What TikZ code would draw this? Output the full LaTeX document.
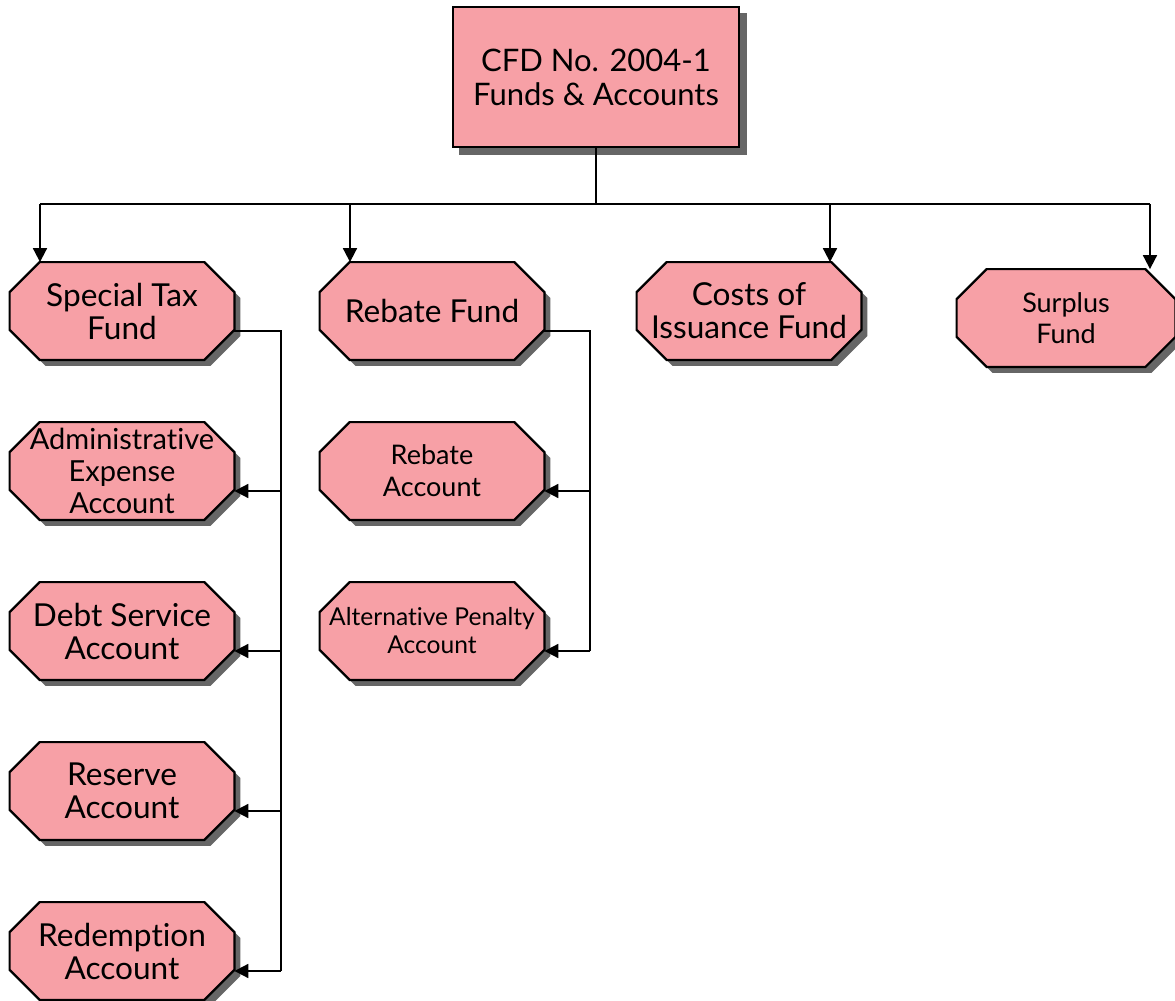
\documentclass[tikz,border=0pt]{standalone}
\usepackage{fontspec}
\setmainfont{Lato}[Ligatures=NoCommon]
\usepackage{tikz}
\usetikzlibrary{backgrounds, arrows.meta}
\definecolor{fundpink}{RGB}{247,160,166}

\tikzset{
  fund/.style={rectangle, minimum width=112pt, minimum height=48.5pt,
    inner sep=0pt, align=center, font=\fontsize{15.8}{16.5}\selectfont},
  headbox/.style={rectangle, draw=black, line width=1.1pt, fill=fundpink,
    minimum width=143pt, minimum height=70pt, align=center,
    font=\fontsize{15.5}{17}\selectfont},
  octline/.style={draw=black, line width=1.1pt, fill=fundpink},
  octshadow/.style={fill=black!60, transform canvas={xshift=3pt, yshift=-3pt}},
  arr/.style={-{Triangle[length=7pt,width=7pt]}},
  link/.style={line width=0.9pt}
}
% octagon round a node, chamfer 15pt
\newcommand\octpath[1]{%
  ([xshift=15pt]#1.north west) -- ([xshift=-15pt]#1.north east)
  -- ([yshift=-15pt]#1.north east) -- ([yshift=15pt]#1.south east)
  -- ([xshift=-15pt]#1.south east) -- ([xshift=15pt]#1.south west)
  -- ([yshift=15pt]#1.south west) -- ([yshift=-15pt]#1.north west) -- cycle}

\begin{document}
\begin{tikzpicture}[x=0.5pt, y=-0.5pt]
  \useasboundingbox (0,0) rectangle (1175,1001);

  \node[headbox] (cfd) at (596,77) {CFD No. 2004-1\\Funds \& Accounts};

  \node[fund] (stf) at (122,311) {Special Tax\\Fund};
  \node[fund] (rbf) at (432,311) {Rebate Fund};
  \node[fund] (coi) at (749,311) {Costs of\\Issuance Fund};
  \node[fund, minimum width=109pt, font=\fontsize{13.5}{15.5}\selectfont] (spf) at (1066,318) {Surplus\\Fund};

  \node[fund, font=\fontsize{14.5}{16}\selectfont] (adm) at (122,471) {Administrative\\Expense\\Account};
  \node[fund] (dsa) at (122,631) {Debt Service\\Account};
  \node[fund] (rsa) at (122,791) {Reserve\\Account};
  \node[fund] (rda) at (122,951) {Redemption\\Account};

  \node[fund, font=\fontsize{13.5}{16}\selectfont] (rba) at (432,471) {Rebate\\Account};
  \node[fund, font=\fontsize{12.3}{14}\selectfont] (apa) at (432,631) {Alternative Penalty\\Account};

  % octagons and shadows behind the text
  \begin{pgfonlayer}{background}
    \fill[black!60] ([shift={(3.5pt,-3.5pt)}]cfd.south west) rectangle ([shift={(3.5pt,-3.5pt)}]cfd.north east);
    \foreach \n in {stf,rbf,coi,spf,adm,dsa,rsa,rda,rba,apa}{
      \fill[octshadow] \octpath{\n};
      \path[octline] \octpath{\n};
    }
  \end{pgfonlayer}

  % top bus
  \coordinate (bus) at (596,204);
  \coordinate (b1) at (40,204);
  \coordinate (b2) at (350,204);
  \coordinate (b3) at (830,204);
  \coordinate (b4) at (1150,204);
  \draw[link] (cfd.south) -- (bus);
  \draw[link] (b1) -- (b4);
  \draw[link, arr] (b1) -- (b1 |- stf.north);
  \draw[link, arr] (b2) -- (b2 |- rbf.north);
  \draw[link, arr] (b3) -- (b3 |- coi.north);
  \draw[link, arr] (b4) -- (b4 |- spf.north);

  % special tax fund accounts
  \coordinate (ltrunk) at (281,0);
  \draw[link] ([yshift=-10pt]stf.east) -| ([yshift=-10pt]rda.east -| ltrunk);
  \foreach \n in {adm,dsa,rsa,rda}
    \draw[link, arr] ([yshift=-10pt]\n.east -| ltrunk) -- ([yshift=-10pt]\n.east);

  % rebate fund accounts
  \coordinate (rtrunk) at (590,0);
  \draw[link] ([yshift=-10pt]rbf.east) -| ([yshift=-10pt]apa.east -| rtrunk);
  \foreach \n in {rba,apa}
    \draw[link, arr] ([yshift=-10pt]\n.east -| rtrunk) -- ([yshift=-10pt]\n.east);
\end{tikzpicture}
\end{document}
